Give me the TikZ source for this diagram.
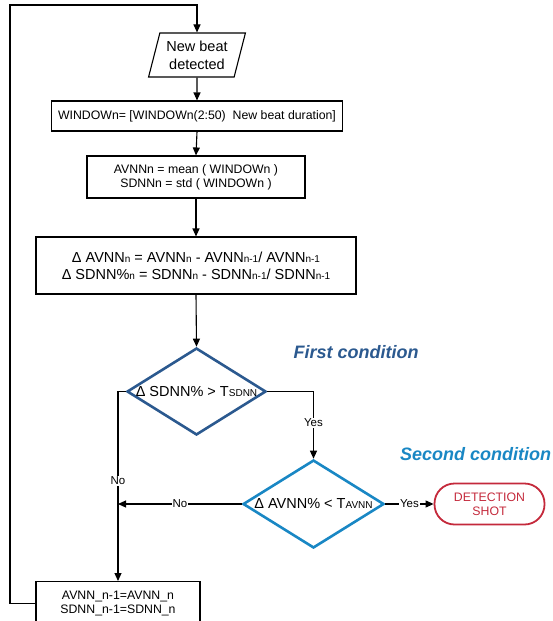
\documentclass[tikz,border=0pt]{standalone}
\usepackage{fontspec}
\setmainfont{Liberation Sans}
\usetikzlibrary{arrows.meta,positioning,shapes.geometric}
\newcommand{\lo}[1]{{\fontsize{10}{10}\selectfont #1}}

\begin{document}
\begin{tikzpicture}[x=1pt,y=-1pt,
  line width=1.1pt,
  >={Triangle[length=8pt,width=7pt]},
  box/.style={draw,rectangle,align=center,inner sep=0pt,font=\fontsize{12.3}{14}\selectfont},
  cond/.style={draw,diamond,line width=2.6pt,inner sep=0pt,minimum width=139pt,minimum height=87pt},
  ctext/.style={font=\fontsize{14.5}{16}\selectfont},
  lbl/.style={fill=white,inner sep=1pt,font=\fontsize{11.5}{13}\selectfont},
  head/.style={font=\fontsize{18}{20}\selectfont\bfseries\itshape}]
\definecolor{dBlue}{rgb}{0.17,0.35,0.56}
\definecolor{lBlue}{rgb}{0.10,0.53,0.77}
\definecolor{rRed}{rgb}{0.77,0.16,0.23}
\clip (0,0) rectangle (552,621);
\node[draw,trapezium,trapezium left angle=72,trapezium right angle=108,trapezium stretches=true,
  minimum width=97pt,minimum height=44pt,inner sep=0pt,align=center,font=\fontsize{14.5}{18}\selectfont]
  (beat) at (197,55) {New beat\\detected};
\node[box,minimum width=291pt,minimum height=30pt] (win) at (197,116)
  {WINDOWn= [WINDOWn(2:50)\ \ New beat duration]};
\node[box,minimum width=218pt,minimum height=42pt] (stat) at (196,177)
  {AVNNn = mean ( WINDOWn )\\SDNNn = std ( WINDOWn )};
\node[box,minimum width=320pt,minimum height=57pt,font=\fontsize{14.5}{17}\selectfont] (delta) at (196,265.5)
  {Δ AVNN\lo{n} = AVNN\lo{n} - AVNN\lo{n-1}/ AVNN\lo{n-1}\\
   Δ SDNN\%\lo{n} = SDNN\lo{n} - SDNN\lo{n-1}/ SDNN\lo{n-1}};
\node[cond,dBlue,label={[ctext,black]center:Δ SDNN\% > T\lo{SDNN}}] (c1) at (196.5,391.5) {};
\node[cond,lBlue,minimum width=141pt,minimum height=88pt,label={[ctext,black]center:Δ AVNN\% < T\lo{AVNN}}] (c2) at (313.5,504) {};
\node[draw=rRed,text=rRed,line width=1.8pt,rounded corners=20pt,minimum width=110pt,minimum height=41pt,
  inner sep=0pt,align=center,font=\fontsize{12.3}{14}\selectfont] (shot) at (489.5,504) {DETECTION\\SHOT};
\node[box,minimum width=164pt,minimum height=44pt,anchor=north] (upd) at (118,581)
  {AVNN\_n-1=AVNN\_n\\SDNN\_n-1=SDNN\_n};
\node[head,dBlue] (h1) at (356,352) {First condition};
\node[head,lBlue] (h2) at (475.5,454) {Second condition};
\coordinate (lc) at (10,5);
\coordinate (j) at (upd.north |- c2.west);
\draw[->] (upd.west) -| (lc) -| (beat.north);
\draw[->] (beat.south) -- (win.north);
\draw[->] (win.south) -- (stat.north);
\draw[->] (stat.south) -- (delta.north);
\draw[->] (delta.south) -- (c1.north);
\draw[->] (c1.east) -| node[lbl,pos=0.735] {Yes} (c2.north);
\draw[->] (c2.east) -- node[lbl] {Yes} (shot.west);
\draw[->] (c2.west) -- node[lbl,pos=0.5] {No} (j);
\draw[->] (c1.west) -| node[lbl,pos=0.735] {No} (upd.north);
\end{tikzpicture}
\end{document}
